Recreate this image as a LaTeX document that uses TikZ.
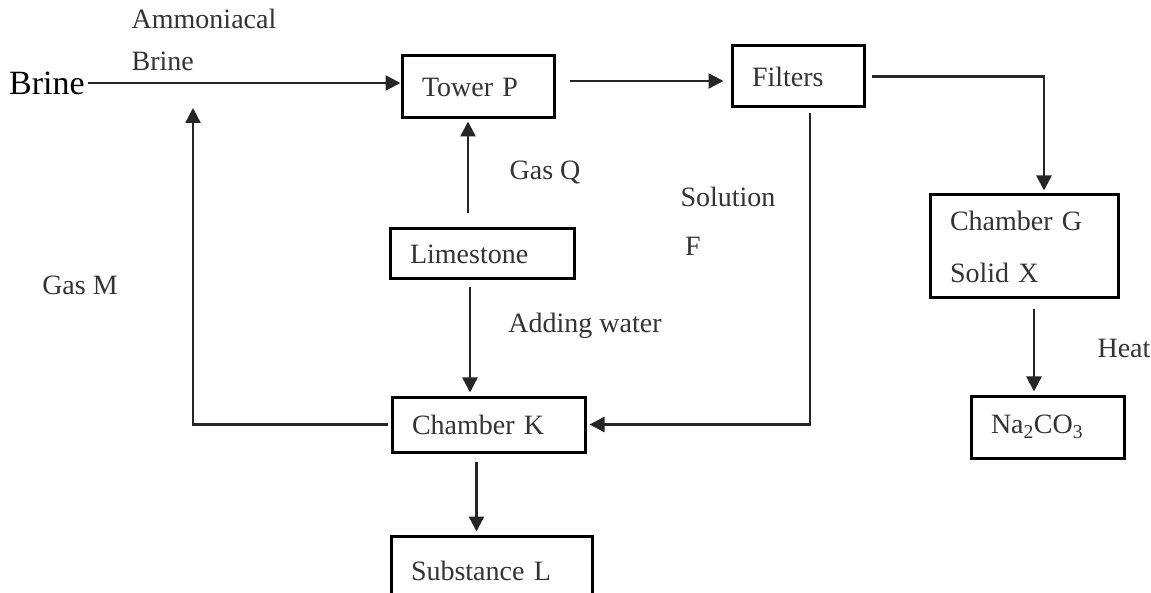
\documentclass[tikz,border=0pt]{standalone}
\usepackage{fontspec}
\setmainfont{Liberation Serif}
\usepackage{tikz}
\usetikzlibrary{arrows.meta,positioning,calc}
\newcommand{\lbl}{\fontsize{28}{33}\selectfont}

\begin{document}
\begin{tikzpicture}[
        x=1pt, y=-1pt,
        stage/.style={draw=black, line width=3pt, align=left, inner xsep=20pt,
          font=\lbl, text=black!80},
        tag/.style={font=\lbl, text=black!80, inner sep=0pt},
        flow/.style={->, line width=2.4pt, black!85},
        >={Triangle[length=15pt,width=15pt]}
      ]
        \useasboundingbox (0,0) rectangle (1151,593);

        % Process stages
        \node[stage, text width=112pt, minimum height=62pt] (towerP) at (478,87) {Tower P};
        \node[stage, text width=92pt, minimum height=61pt] (filters) at (798,76.5) {Filters};
        \node[stage, text width=144pt, minimum height=50pt] (limestone) at (482,254) {Limestone};
        \node[stage, text width=153pt, minimum height=55pt] (chamberK) at (488.5,424.5) {Chamber K};
        \node[stage, text width=161pt, minimum height=70pt] (substanceL) at (491.5,571) {Substance L};
        \node[stage, text width=148pt, minimum height=103pt] (chamberG) at (1024,246.5) {Chamber G\\[19pt]Solid X};
        \node[stage, text width=113pt, minimum height=62pt] (naco) at (1047.5,427) {Na\textsubscript{2}CO\textsubscript{3}};

        % Labels
        \node[tag, font=\fontsize{34}{38}\selectfont, text=black] (brine) at (47,83) {Brine};
        \node[tag, align=left] (ammBrine) at (204,40) {Ammoniacal\\[9pt]Brine};
        \node[tag] (gasQ) at (545,173) {Gas Q};
        \node[tag] (solution) at (728,197) {Solution};
        \node[tag] (solF) at (693,246) {F};
        \node[tag] (water) at (585,326) {Adding water};
        \node[tag] (gasM) at (80,285) {Gas M};
        \node[tag] (heat) at (1124,348) {Heat};
        \coordinate (gasMtop) at (193,108);

        % Connectors
        \draw[flow, shorten <=3pt] (brine.east) -- (brine.east -| towerP.west);
        \draw[flow, shorten <=14pt, shorten >=7pt] ([yshift=6pt]towerP.east) -- ([yshift=6pt]towerP.east -| filters.west);
        \draw[flow, shorten <=6pt, shorten >=3pt] (filters.east) -| ([xshift=20pt]chamberG.north);
        \draw[flow, shorten <=5pt, shorten >=3pt] ([xshift=12pt]filters.south) |- (chamberK.east);
        \draw[flow, shorten <=14pt, shorten >=2pt] ([xshift=-14pt]limestone.north) -- ([xshift=-14pt]limestone.north |- towerP.south);
        \draw[flow, shorten <=7pt, shorten >=3pt] ([xshift=-12pt]limestone.south) -- ([xshift=-12pt]limestone.south |- chamberK.north);
        \draw[flow, shorten <=8pt, shorten >=3pt] ([xshift=-12pt]chamberK.south) -- ([xshift=-12pt]chamberK.south |- substanceL.north);
        \draw[flow, shorten <=3pt] (chamberK.west) -| (gasMtop);
        \draw[flow, shorten <=10pt, shorten >=3pt] ([xshift=10pt]chamberG.south) -- ([xshift=10pt]chamberG.south |- naco.north);
      \end{tikzpicture}
\end{document}
